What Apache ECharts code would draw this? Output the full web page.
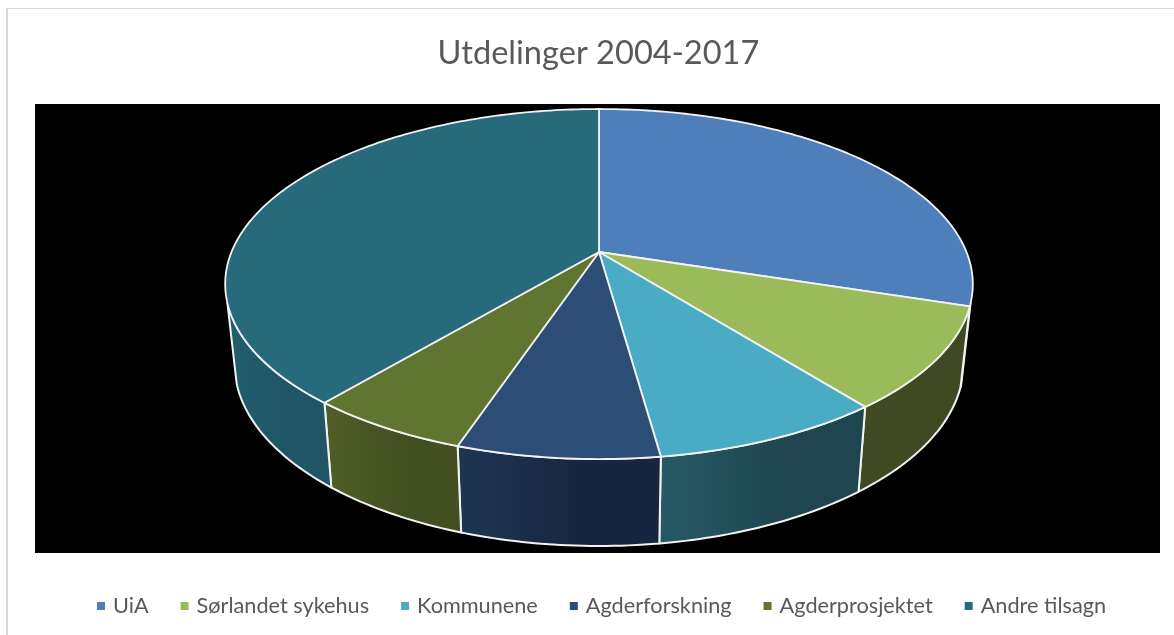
<!DOCTYPE html>
<html><head><meta charset="utf-8">
<style>html,body{margin:0;padding:0;background:#fff}#c{width:1174px;height:635px}</style>
<script src="https://cdn.jsdelivr.net/npm/echarts@6/dist/echarts.min.js"></script>
</head><body><div id="c"></div>
<script>
const categories = ['UiA','Sørlandet sykehus','Kommunene','Agderforskning','Agderprosjektet','Andre tilsagn'];
const shares = [29.9, 9.45, 8.45, 7.35, 5.95, 38.9];
const topColors = ['#4F7FBB','#9BBA59','#4AABC5','#2C4D76','#607530','#276A7C'];
const wallStart = ['#3A5F8C','#414B23','#265A66','#1E3653','#505F28','#225E6E'];
const wallEnd   = ['#3A5F8C','#3F4A22','#1F4650','#172640','#424F20','#1F5565'];

const total = shares.reduce((a,b)=>a+b,0);
const starts = []; { let s = 0; shares.forEach(v=>{starts.push(s); s += v;}); }
const toDeg = v => v/total*360;

// projected disc: circle seen in perspective, apex is above the ellipse centre
const CX=599, CY=284, A=367.5, B=175, OFF=-32, K=0.183;
const project = deg => {
  const r = deg*Math.PI/180, u = Math.sin(r), v = -Math.cos(r), w = 1-K*v;
  return [CX + A*u/w, CY + (B*v+OFF)/w];
};
const apex = [CX, CY+OFF];
const lower = p => [CX + (p[0]-CX)*0.975, p[1]*1.04 + 68.6];
const VIS0 = 106.6, VIS1 = 253.4;
const arc = (a,b) => { const pts=[]; for(let d=a; d<b; d+=1) pts.push(project(d)); pts.push(project(b)); return pts; };

const renderSlice = (params, api) => {
  const i = params.seriesIndex;
  const a0 = toDeg(starts[i]), a1 = a0 + toDeg(api.value(0));
  const children = [];
  const w0 = Math.max(a0,VIS0), w1 = Math.min(a1,VIS1);
  if (w1 > w0) {
    const t = arc(w0,w1);
    children.push({type:'polygon', z2:1, silent:true,
      shape:{points:t.concat(t.slice().reverse().map(lower))},
      style:{fill:{type:'linear',x:0,y:0,x2:1,y2:0,colorStops:[{offset:0,color:wallStart[i]},{offset:0.6,color:wallEnd[i]},{offset:1,color:wallEnd[i]}]},
             stroke:'#F2F2F2', lineWidth:2, lineJoin:'round'}});
  }
  children.push({type:'polygon', z2:10, silent:true,
    shape:{points:[apex].concat(arc(a0,a1))},
    style:{fill:topColors[i], stroke:'#F2F2F2', lineWidth:1.8, lineJoin:'round'}});
  return {type:'group', children};
};

const chart = echarts.init(document.getElementById('c'), null, {renderer:'canvas'});
chart.setOption({
  animation:false,
  backgroundColor:'#fff',
  title:{text:'Utdelinger 2004-2017', left:593.5, top:32, textAlign:'center',
    textStyle:{fontFamily:'Lato', fontSize:32.6, fontWeight:'normal', color:'#595959'}},
  legend:{left:92, top:590, itemWidth:8, itemHeight:8, itemGap:32, icon:'rect',
    selectedMode:false, data:categories,
    textStyle:{fontFamily:'Lato', fontSize:21.7, color:'#595959', padding:[0,0,0,3]}},
  graphic:[
    {type:'rect', silent:true, z:0, shape:{x:35,y:104,width:1125,height:449}, style:{fill:'#000'}},
    {type:'rect', silent:true, z:0, shape:{x:6,y:8,width:2,height:627}, style:{fill:'#D9D9D9'}},
    {type:'rect', silent:true, z:0, shape:{x:6,y:8,width:1168,height:1}, style:{fill:'#D9D9D9'}}
  ],
  series: categories.map((name,i)=>({
    type:'custom', name, coordinateSystem:'none', silent:true,
    itemStyle:{color:topColors[i]},
    renderItem:renderSlice,
    data:[[shares[i]]]
  }))
});
</script></body></html>
